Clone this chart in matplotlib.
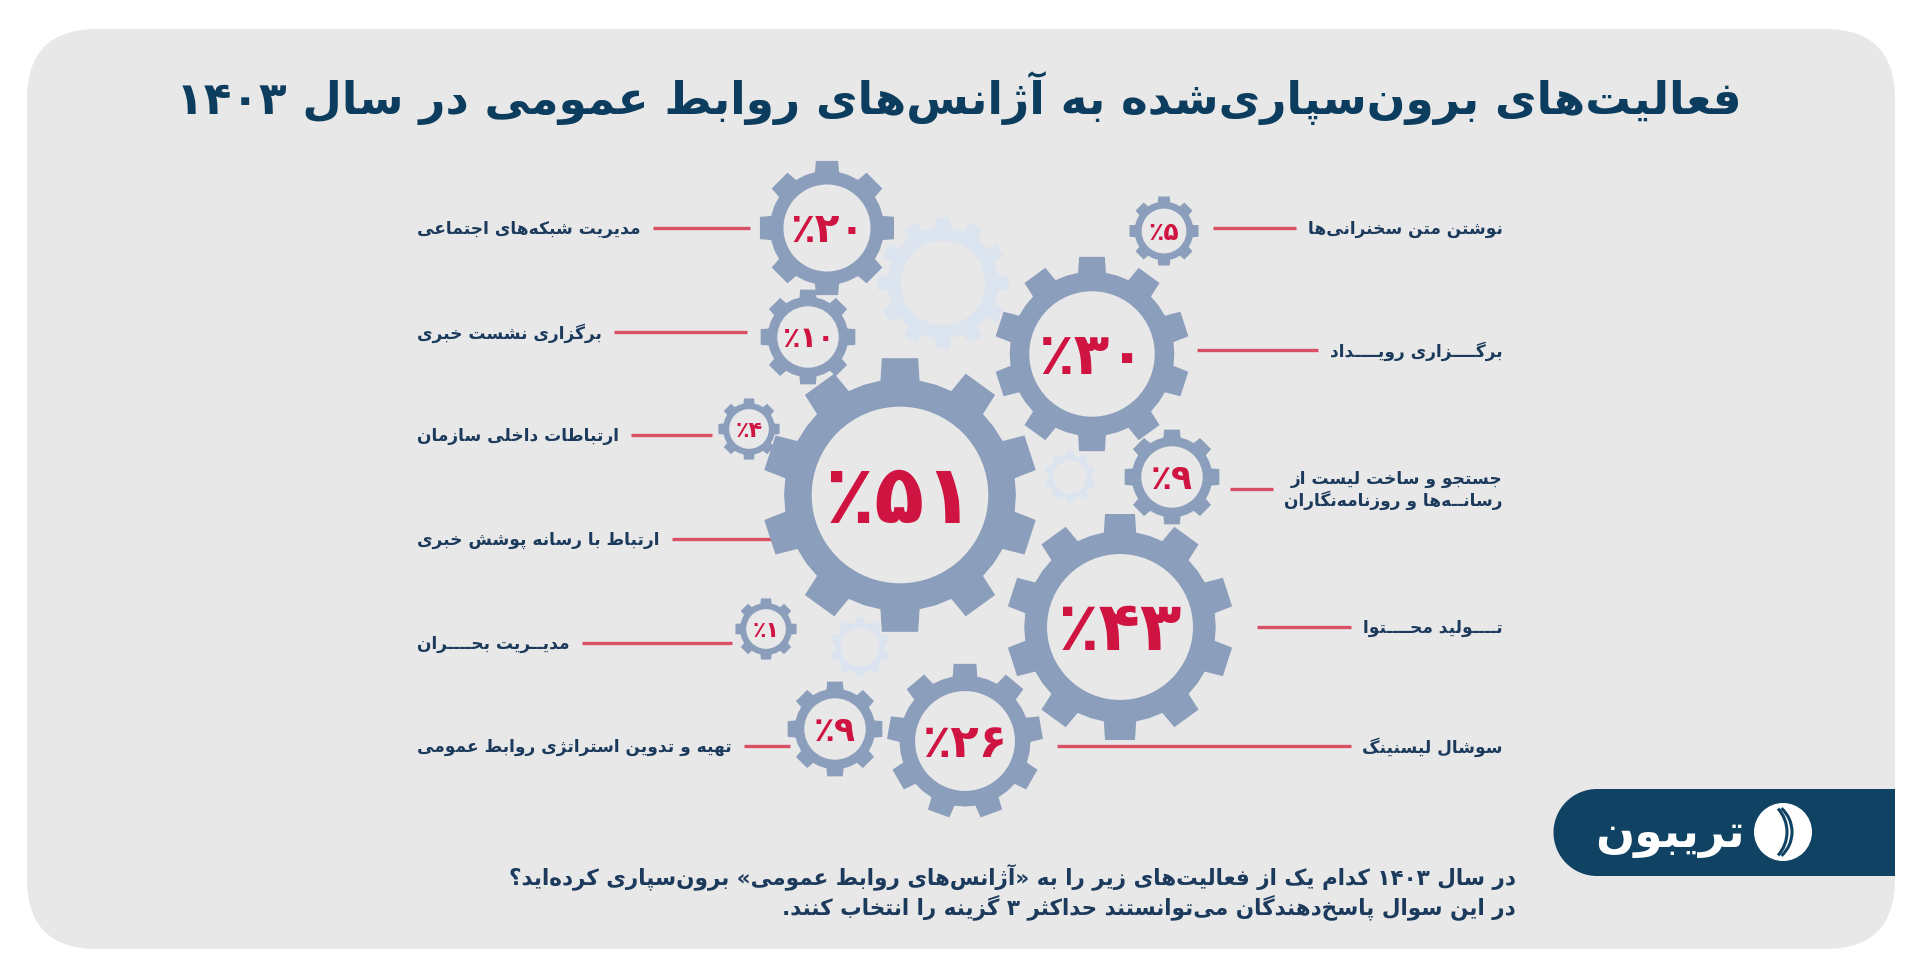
import re
import numpy as np
import matplotlib
matplotlib.use('Agg')
import matplotlib.pyplot as plt
from matplotlib import font_manager, ft2font
from matplotlib.patches import Polygon, Circle, FancyBboxPatch, Rectangle, Arc

# ---------------- data ----------------
title = 'فعالیت‌های برون‌سپاری‌شده به آژانس‌های روابط عمومی در سال ۱۴۰۳'

left_labels = ['مدیریت شبکه‌های اجتماعی', 'برگزاری نشست خبری', 'ارتباطات داخلی سازمان',
               'ارتباط با رسانه پوشش خبری', 'مدیــریت بحــــران', 'تهیه و تدوین استراتژی روابط عمومی']
left_values = [20, 10, 4, 51, 1, 9]

right_labels = ['نوشتن متن سخنرانی‌ها', 'برگــــزاری رویــــداد', 'جستجو و ساخت لیست از\nرسانــه‌ها و روزنامه‌نگاران',
                'تــــولید محــــتوا', 'سوشال لیسنینگ']
right_values = [5, 30, 9, 43, 26]

note_lines = ['در سال ۱۴۰۳ کدام یک از فعالیت‌های زیر را به «آژانس‌های روابط عمومی» برون‌سپاری کرده‌اید؟',
              'در این سوال پاسخ‌دهندگان می‌توانستند حداکثر ۳ گزینه را انتخاب کنند.']
brand = 'تریبون'

# ---------------- layout (pixels) ----------------
left_label_x = 417
left_y = [229, 333, 436, 540, 644, 747]
left_line_end = [750, 747, 712, 772, 732, 790]
# gear: x, y, tip radius, teeth
left_gears = [(827, 229, 68, 8), (808, 338, 48, 8), (749, 430, 31, 8),
              (900, 496, 138, 10), (766, 630, 31, 8), (835, 730, 48, 8)]
right_label_x = 1503
right_y = [229, 351, 490, 628, 747]
right_line_start = [1213, 1197, 1230, 1257, 1057]
right_gears = [(1164, 232, 35, 8), (1092, 355, 98, 10), (1172, 478, 48, 8),
               (1120, 628, 114, 10), (965, 742, 78, 9)]
deco_gears = [(943, 284, 66, 12), (1070, 478, 26, 10), (860, 648, 30, 10)]

BG = '#e8e8e8'
GEAR = '#8b9ebb'
LIGHT = '#dce4f0'
RED = '#d01442'
LINE = '#d94f66'
NAVY = '#1b3a5c'
TITLE = '#0c3d5e'
BANNER = '#0f4263'

# ---------------- Persian shaping (no shaping engine in matplotlib) ----------------
FORMS = {
    '\u0621': ('\ufe80', None, None, None), '\u0622': ('\ufe81', '\ufe82', None, None),
    '\u0623': ('\ufe83', '\ufe84', None, None), '\u0624': ('\ufe85', '\ufe86', None, None),
    '\u0625': ('\ufe87', '\ufe88', None, None), '\u0626': ('\ufe89', '\ufe8a', '\ufe8b', '\ufe8c'),
    '\u0627': ('\ufe8d', '\ufe8e', None, None), '\u0628': ('\ufe8f', '\ufe90', '\ufe91', '\ufe92'),
    '\u0629': ('\ufe93', '\ufe94', None, None), '\u062a': ('\ufe95', '\ufe96', '\ufe97', '\ufe98'),
    '\u062b': ('\ufe99', '\ufe9a', '\ufe9b', '\ufe9c'), '\u062c': ('\ufe9d', '\ufe9e', '\ufe9f', '\ufea0'),
    '\u062d': ('\ufea1', '\ufea2', '\ufea3', '\ufea4'), '\u062e': ('\ufea5', '\ufea6', '\ufea7', '\ufea8'),
    '\u062f': ('\ufea9', '\ufeaa', None, None), '\u0630': ('\ufeab', '\ufeac', None, None),
    '\u0631': ('\ufead', '\ufeae', None, None), '\u0632': ('\ufeaf', '\ufeb0', None, None),
    '\u0633': ('\ufeb1', '\ufeb2', '\ufeb3', '\ufeb4'), '\u0634': ('\ufeb5', '\ufeb6', '\ufeb7', '\ufeb8'),
    '\u0635': ('\ufeb9', '\ufeba', '\ufebb', '\ufebc'), '\u0636': ('\ufebd', '\ufebe', '\ufebf', '\ufec0'),
    '\u0637': ('\ufec1', '\ufec2', '\ufec3', '\ufec4'), '\u0638': ('\ufec5', '\ufec6', '\ufec7', '\ufec8'),
    '\u0639': ('\ufec9', '\ufeca', '\ufecb', '\ufecc'), '\u063a': ('\ufecd', '\ufece', '\ufecf', '\ufed0'),
    '\u0641': ('\ufed1', '\ufed2', '\ufed3', '\ufed4'), '\u0642': ('\ufed5', '\ufed6', '\ufed7', '\ufed8'),
    '\u0643': ('\ufed9', '\ufeda', '\ufedb', '\ufedc'), '\u0644': ('\ufedd', '\ufede', '\ufedf', '\ufee0'),
    '\u0645': ('\ufee1', '\ufee2', '\ufee3', '\ufee4'), '\u0646': ('\ufee5', '\ufee6', '\ufee7', '\ufee8'),
    '\u0647': ('\ufee9', '\ufeea', '\ufeeb', '\ufeec'), '\u0648': ('\ufeed', '\ufeee', None, None),
    '\u0649': ('\ufeef', '\ufef0', None, None), '\u064a': ('\ufef1', '\ufef2', '\ufef3', '\ufef4'),
    '\u067e': ('\ufb56', '\ufb57', '\ufb58', '\ufb59'), '\u0686': ('\ufb7a', '\ufb7b', '\ufb7c', '\ufb7d'),
    '\u0698': ('\ufb8a', '\ufb8b', None, None), '\u06a9': ('\ufb8e', '\ufb8f', '\ufb90', '\ufb91'),
    '\u06af': ('\ufb92', '\ufb93', '\ufb94', '\ufb95'), '\u06cc': ('\ufbfc', '\ufbfd', '\ufbfe', '\ufbff'),
    '\u0640': ('\u0640', '\u0640', '\u0640', '\u0640'),
}
LAM_ALEF = {'\u0622': ('\ufef5', '\ufef6'), '\u0623': ('\ufef7', '\ufef8'),
            '\u0625': ('\ufef9', '\ufefa'), '\u0627': ('\ufefb', '\ufefc')}
FALLBACK = {'\ufbfc': '\ufeef', '\ufbfd': '\ufef0', '\ufbfe': '\ufef3', '\ufbff': '\ufef4',
            '\ufb90': '\ufedb', '\ufb91': '\ufedc', '\ufb8e': '\u06a9', '\ufb8f': '\u06a9'}
MIRROR = {'«': '»', '»': '«', '(': ')', ')': '('}

font_path = font_manager.findfont(font_manager.FontProperties(family='DejaVu Sans', weight='bold'))
cmap = ft2font.FT2Font(font_path).get_charmap()


def glyph(ch, base):
    if ord(ch) in cmap:
        return ch
    alt = FALLBACK.get(ch)
    if alt and ord(alt) in cmap:
        return alt
    return base


def shape(s):
    out = []
    i = 0
    n = len(s)
    while i < n:
        c = s[i]
        if c not in FORMS:
            if c != '\u200c':
                out.append(c)
            i += 1
            continue
        p = s[i - 1] if i > 0 else ''
        prev_join = p in FORMS and FORMS[p][2] is not None
        nx = s[i + 1] if i + 1 < n else ''
        if c == '\u0644' and nx in LAM_ALEF:
            out.append(glyph(LAM_ALEF[nx][1 if prev_join else 0], c + nx))
            i += 2
            continue
        next_join = FORMS[c][2] is not None and nx in FORMS and FORMS[nx][1] is not None
        iso, fin, ini, med = FORMS[c]
        if prev_join and next_join:
            f = med
        elif prev_join:
            f = fin
        elif next_join:
            f = ini
        else:
            f = iso
        out.append(glyph(f, c))
        i += 1
    return ''.join(out)


DIG = '0-9\u06f0-\u06f9\u0660-\u0669'


def fa(s):
    lines = []
    for line in s.split('\n'):
        t = shape(line)
        runs = re.findall('[' + DIG + ']+|[^' + DIG + ']+', t)
        vis = []
        for r in reversed(runs):
            if re.match('[' + DIG + ']', r):
                vis.append(r)
            else:
                vis.append(''.join(MIRROR.get(c, c) for c in r[::-1]))
        lines.append(''.join(vis))
    return '\n'.join(lines)


def fa_num(v):
    return ''.join(chr(0x06f0 + int(d)) for d in str(v))


# ---------------- figure ----------------
fig = plt.figure(figsize=(19.2, 9.79), dpi=100)
fig.patch.set_facecolor('white')
ax = fig.add_axes([0, 0, 1, 1])
ax.set_xlim(0, 1920)
ax.set_ylim(979, 0)
ax.axis('off')
renderer = fig.canvas.get_renderer()

ax.add_patch(FancyBboxPatch((27, 30), 1868, 920, boxstyle='round,pad=0,rounding_size=70',
                            fc=BG, ec='none'))


def txt(x, y, s, size, color, ha='center', va='center'):
    return ax.text(x, y, fa(s), fontsize=size, color=color, ha=ha, va=va,
                   family='DejaVu Sans', fontweight='bold', multialignment=ha)


def fit(t, width):
    w = t.get_window_extent(renderer).width
    t.set_fontsize(t.get_fontsize() * width / w)
    return t.get_fontsize()


def gear(cx, cy, r, n, color, hole_color, z=2):
    r_root = r * 0.84
    pitch = 2 * np.pi / n
    pts = []
    for k in range(n):
        a = -np.pi / 2 + k * pitch
        for ang, rad in [(a - pitch * 0.5, r_root), (a - pitch * 0.27, r_root),
                         (a - pitch * 0.21, r), (a + pitch * 0.21, r), (a + pitch * 0.27, r_root)]:
            pts.append((cx + rad * np.cos(ang), cy + rad * np.sin(ang)))
    ax.add_patch(Polygon(pts, closed=True, fc=color, ec='none', zorder=z))
    ax.add_patch(Circle((cx, cy), r * 0.64, fc=hole_color, ec='none', zorder=z))


# title
t = txt(959, 98, title, 30, TITLE)
fit(t, 1563)

for (x, y, r, n) in deco_gears:
    gear(x, y, r, n, LIGHT, BG, z=1)

# label font size from first label
probe = txt(left_label_x, left_y[0], left_labels[0], 12, NAVY, ha='left')
lab_size = fit(probe, 222)
probe.remove()

for lab, y, xe in zip(left_labels, left_y, left_line_end):
    tl = txt(left_label_x, y, lab, lab_size, NAVY, ha='left')
    xs = tl.get_window_extent(renderer).x1 + 12
    ax.plot([xs, xe], [y, y], color=LINE, lw=2.4, solid_capstyle='butt', zorder=1.5)

for lab, y, xs in zip(right_labels, right_y, right_line_start):
    tl = txt(right_label_x, y, lab, lab_size, NAVY, ha='right')
    xe = tl.get_window_extent(renderer).x0 - 12
    ax.plot([xs, xe], [y, y], color=LINE, lw=2.4, solid_capstyle='butt', zorder=1.5)

for v, (gx, gy, r, n) in list(zip(left_values, left_gears)) + list(zip(right_values, right_gears)):
    gear(gx, gy, r, n, GEAR, BG, z=2)
    pt = txt(gx, gy + r * 0.03, fa_num(v) + '\u066a', 20, RED)
    pt.set_zorder(3)
    hole_d = 2 * r * 0.64
    fit(pt, hole_d * (0.85 if v >= 10 else 0.68))

# bottom note
n1 = txt(1516, 877, note_lines[0], 14, NAVY, ha='right')
note_size = fit(n1, 1014)
txt(1516, 907, note_lines[1], note_size, NAVY, ha='right')

# brand banner
ax.add_patch(Circle((1597, 833.5), 43.5, fc=BANNER, ec='none', zorder=2))
ax.add_patch(Rectangle((1597, 790), 1895 - 1597, 87, fc=BANNER, ec='none', zorder=2))
bt = txt(1745, 836, brand, 24, 'white', ha='right')
bt.set_zorder(3)
fit(bt, 150)
ax.add_patch(Circle((1783, 833), 29, fc='white', ec='none', zorder=3))
ax.add_patch(Arc((1760, 833), 64, 64, theta1=-48, theta2=48, color=BANNER, lw=2.2, zorder=4))
ax.add_patch(Arc((1752, 833), 70, 70, theta1=-42, theta2=42, color=BANNER, lw=2.2, zorder=4))

fig.savefig('out.png', dpi=100, facecolor='white')
